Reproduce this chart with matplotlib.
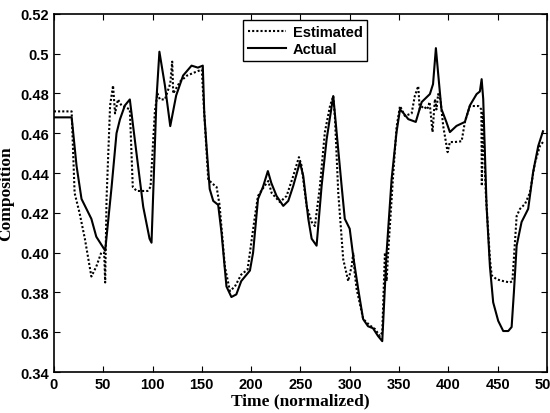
import numpy as np
import matplotlib.pyplot as plt

# Actual composition (solid)
t_act = [0, 18, 23, 28, 33, 38, 43, 52, 58.5, 63.5, 67, 72, 77, 84, 90.6, 97, 99,
         104, 107, 112.6, 118, 124, 131, 139.6, 146, 151, 152.5, 155, 158, 161.6, 166.6,
         170, 175, 180, 185, 190, 198.8, 202, 207, 212, 217, 220.5, 225.8, 232.6,
         237.7, 242.7, 249.5, 252.9, 258, 261.4, 266.4, 271.5, 276.6, 283.3, 286.7,
         291.8, 295, 300, 303.6, 308.6, 313.6, 318.6, 323.6, 328.7, 333, 337.4,
         342.5, 347.5, 351, 354.4, 359.4, 367, 373, 381.3, 384.5, 387.4, 389.7,
         393, 398, 401.6, 408.3, 416.8, 421.9, 428.7, 432, 433.8, 435.4, 438.8,
         442.2, 445.5, 450.6, 455.7, 460.8, 464.2, 466.5, 469.3, 474.3, 481, 486,
         491.2, 496]
v_act = [0.468, 0.468, 0.4435, 0.427, 0.422, 0.417, 0.408, 0.401, 0.433, 0.460, 0.467, 0.474, 0.477, 0.449, 0.423, 0.407, 0.405,
         0.477, 0.501, 0.484, 0.4636, 0.479, 0.489, 0.494, 0.493, 0.494, 0.470, 0.452, 0.432, 0.426, 0.424,
         0.410, 0.383, 0.3777, 0.379, 0.3857, 0.391, 0.400, 0.427, 0.433, 0.441, 0.435, 0.4285, 0.4235,
         0.426, 0.4335, 0.4455, 0.4385, 0.417, 0.407, 0.4035, 0.4335, 0.457, 0.4787, 0.4606,
         0.4335, 0.417, 0.412, 0.398, 0.3817, 0.3666, 0.363, 0.362, 0.3581, 0.3555, 0.400,
         0.437, 0.4606, 0.472, 0.4702, 0.4671, 0.4657, 0.4757, 0.4797, 0.4847, 0.5028, 0.490,
         0.4722, 0.4657, 0.4606, 0.4637, 0.4657, 0.474, 0.4797, 0.481, 0.4872, 0.4772, 0.4234,
         0.393, 0.375, 0.3657, 0.3606, 0.3606, 0.3626, 0.380, 0.4035, 0.4154, 0.422, 0.4405,
         0.4536, 0.461]

# Estimated composition (dotted)
t_est = [0, 18, 21, 26, 31.4, 38, 43, 48, 51, 52, 53.4, 57, 60, 62, 65, 68.5, 77,
         80, 84, 95, 98, 102.4, 105, 107.5, 112.6, 118, 120, 121, 128, 135, 144.7,
         150, 152, 156.5, 160, 165, 168, 173.4, 178.5, 183.6, 190, 196.4, 203.9,
         207, 213.6, 217.4, 220.8, 229.2, 236, 242.7, 248.5, 251, 256.3, 261.4,
         264.7, 269.8, 274.8, 280, 283.3, 285, 288.4, 293.4, 298.5, 302, 303.6,
         305, 307, 313.7, 320, 325.6, 330.7, 333, 335.7, 337.4, 339, 344, 347.5,
         351, 356, 362.8, 366, 369.5, 371, 374.6, 378.6, 381, 384, 386.4, 388,
         389.7, 392, 394.8, 399.3, 401.6, 406.7, 413.5, 416.8, 421.9, 430.4,
         433.5, 434, 435, 438, 442.2, 444, 449, 455.7, 462.5, 465, 469.3, 472.7,
         477.8, 482.7, 487.8, 492.9, 496]
v_est = [0.471, 0.471, 0.430, 0.420, 0.407, 0.388, 0.393, 0.400, 0.400, 0.385, 0.427, 0.474, 0.484, 0.470, 0.477, 0.474, 0.472,
         0.433, 0.431, 0.431, 0.433, 0.471, 0.480, 0.477, 0.477, 0.485, 0.496, 0.480, 0.486, 0.489, 0.491,
         0.492, 0.474, 0.437, 0.435, 0.433, 0.424, 0.393, 0.3807, 0.383, 0.389, 0.3915, 0.4184,
         0.4285, 0.4335, 0.436, 0.430, 0.4254, 0.4285, 0.4385, 0.448, 0.444, 0.4234, 0.4154,
         0.4134, 0.4335, 0.4606, 0.4737, 0.4787, 0.468, 0.430, 0.3967, 0.3857, 0.3933, 0.400,
         0.390, 0.3817, 0.3666, 0.3636, 0.3616, 0.358, 0.360, 0.400, 0.3857, 0.400, 0.4385, 0.463,
         0.4737, 0.4687, 0.470, 0.4787, 0.4837, 0.472, 0.4737, 0.472, 0.4757, 0.4606, 0.4772, 0.472,
         0.4797, 0.477, 0.4637, 0.4505, 0.4556, 0.4556, 0.456, 0.4657, 0.4737, 0.4737,
         0.472, 0.4335, 0.470, 0.430, 0.3967, 0.3886, 0.3866, 0.3857, 0.385, 0.3857, 0.4184, 0.422,
         0.4245, 0.430, 0.445, 0.4536, 0.4556]

xticks = np.arange(0, 501, 50)
yticks = np.arange(0.34, 0.521, 0.02)

fig = plt.figure(figsize=(5.5, 4.14), dpi=100)
ax = fig.add_axes([0.098, 0.099, 0.8964, 0.865])

ax.plot(t_est, v_est, color='black', linestyle=(0, (1, 1)), linewidth=1.5, label='Estimated')
ax.plot(t_act, v_act, color='black', linestyle='-', linewidth=1.5, label='Actual')

ax.set_xlim(0, 500)
ax.set_ylim(0.34, 0.52)
ax.set_xticks(xticks)
ax.set_yticks(yticks)
ax.set_yticklabels(['%.2f' % y if round(y, 2) != 0.5 else '0.5' for y in yticks])
ax.tick_params(direction='in', top=True, right=True, length=4, width=0.8)
for lab in ax.get_xticklabels() + ax.get_yticklabels():
    lab.set_family('Liberation Sans')
    lab.set_weight('bold')
    lab.set_size(10.5)
for s in ax.spines.values():
    s.set_linewidth(1.2)

ax.set_xlabel('Time (normalized)', family='Liberation Serif', weight='bold', size=12.5, labelpad=1)
ax.set_ylabel('Composition', family='Liberation Serif', weight='bold', size=12.5, labelpad=4)

leg = ax.legend(loc='upper center', bbox_to_anchor=(0.51, 1.0), borderaxespad=0.45,
                fancybox=False, edgecolor='black', framealpha=1, handlelength=2.6,
                borderpad=0.3, labelspacing=0.25, handletextpad=0.5,
                prop={'family': 'Liberation Sans', 'weight': 'bold', 'size': 10.5})
leg.get_frame().set_linewidth(1.0)

fig.savefig('out.png', dpi=100)
